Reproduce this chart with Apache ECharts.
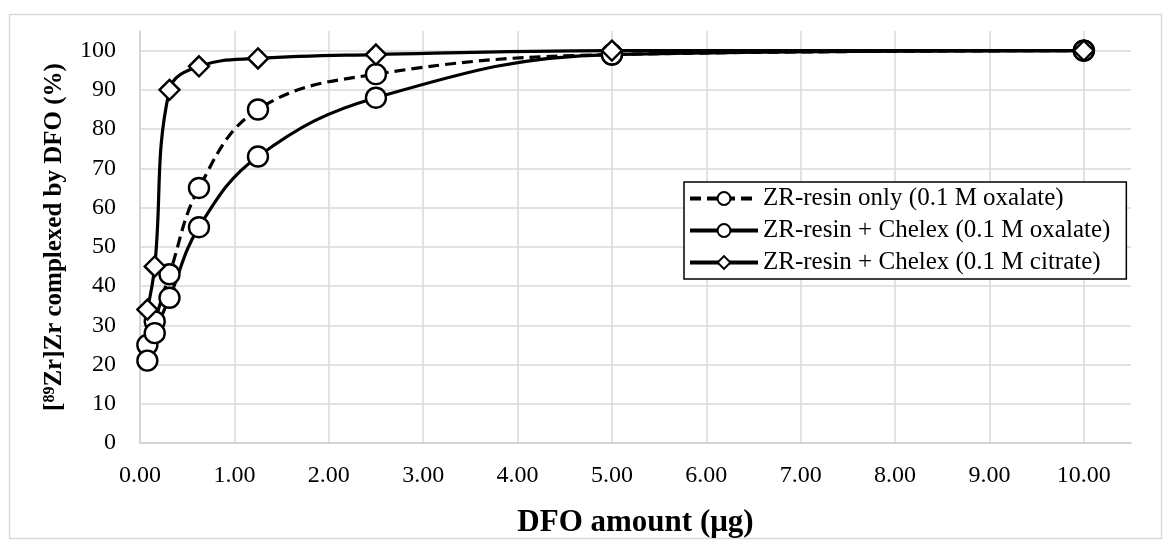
<!DOCTYPE html>
<html><head><meta charset="utf-8">
<script src="https://cdn.jsdelivr.net/npm/echarts@6/dist/echarts.min.js"></script>
<style>html,body{margin:0;padding:0;background:#fff}#c{width:1170px;height:543px}</style>
</head><body><div id="c"></div>
<script>
// DFO amount (µg)
const xValues = [0.078, 0.156, 0.3125, 0.625, 1.25, 2.5, 5, 10];
// [89Zr]Zr complexed by DFO (%)
const resinOnlyOxalate = [25, 31, 43, 65, 85, 94, 99, 100];
const chelexOxalate   = [21, 28, 37, 55, 73, 88, 99, 100];
const chelexCitrate   = [34, 45, 90, 96, 98, 99, 100, 100];
const seriesNames = [
  'ZR-resin only (0.1 M oxalate)',
  'ZR-resin + Chelex (0.1 M oxalate)',
  'ZR-resin + Chelex (0.1 M citrate)'
];

const FONT = 'Liberation Serif';
const pairs = arr => xValues.map((x, i) => [x, arr[i]]);

function lineSeries(name, data, symbol, dashed) {
  return {
    name: name,
    type: 'line',
    data: pairs(data),
    smooth: 0.4,
    symbol: symbol,
    symbolSize: 20,
    showAllSymbol: true,
    lineStyle: { color: '#000', width: 3.2, type: dashed ? [11, 6] : 'solid' },
    itemStyle: { color: '#fff', borderColor: '#000', borderWidth: 2.4 },
    emphasis: { disabled: true },
    animation: false
  };
}

const chart = echarts.init(document.getElementById('c'));
chart.setOption({
  backgroundColor: '#fff',
  animation: false,
  graphic: [{
    type: 'rect', silent: true,
    shape: { x: 9.5, y: 14.5, width: 1152, height: 524 },
    style: { fill: 'none', stroke: '#d9d9d9', lineWidth: 1.5 }
  }],
  grid: { left: 140, right: 39, top: 31, bottom: 98 },
  legend: {
    left: 684, top: 182,
    orient: 'vertical',
    itemWidth: 68, itemHeight: 16, itemGap: 7,
    padding: [4, 16, 4, 4],
    borderColor: '#000', borderWidth: 1.5,
    backgroundColor: '#fff',
    lineStyle: { width: 4 },
    itemStyle: { borderWidth: 2 },
    textStyle: { fontFamily: FONT, fontSize: 25, color: '#000', lineHeight: 25 },
    data: seriesNames
  },
  xAxis: {
    type: 'value', min: 0, max: 10.5, interval: 1,
    name: 'DFO amount (μg)', nameLocation: 'middle', nameGap: 64,
    nameTextStyle: { fontFamily: FONT, fontSize: 31, fontWeight: 'bold', color: '#000' },
    axisLine: { show: true, lineStyle: { color: '#d0d0d0', width: 1.5 } },
    axisTick: { show: false },
    axisLabel: { fontFamily: FONT, fontSize: 24, color: '#000', margin: 21,
      showMaxLabel: false, formatter: v => v.toFixed(2) },
    splitLine: { show: true, showMaxLine: false, lineStyle: { color: '#d9d9d9', width: 1.5 } }
  },
  yAxis: {
    type: 'value', min: 0, max: 105, interval: 10,
    name: '[{sup|89}Zr]Zr complexed by DFO (%)', nameLocation: 'middle', nameGap: 73,
    nameTextStyle: { fontFamily: FONT, fontSize: 25, fontWeight: 'bold', color: '#000',
      rich: { sup: { fontFamily: FONT, fontSize: 16, fontWeight: 'bold', color: '#000', padding: [0, 0, 9, 0] } } },
    axisLine: { show: true, lineStyle: { color: '#d0d0d0', width: 1.5 } },
    axisTick: { show: false },
    axisLabel: { fontFamily: FONT, fontSize: 24, color: '#000', margin: 24, showMaxLabel: false },
    splitLine: { show: true, showMaxLine: false, lineStyle: { color: '#d9d9d9', width: 1.5 } }
  },
  series: [
    lineSeries(seriesNames[0], resinOnlyOxalate, 'circle', true),
    lineSeries(seriesNames[1], chelexOxalate, 'circle', false),
    lineSeries(seriesNames[2], chelexCitrate, 'diamond', false)
  ]
});
</script>
</body></html>
